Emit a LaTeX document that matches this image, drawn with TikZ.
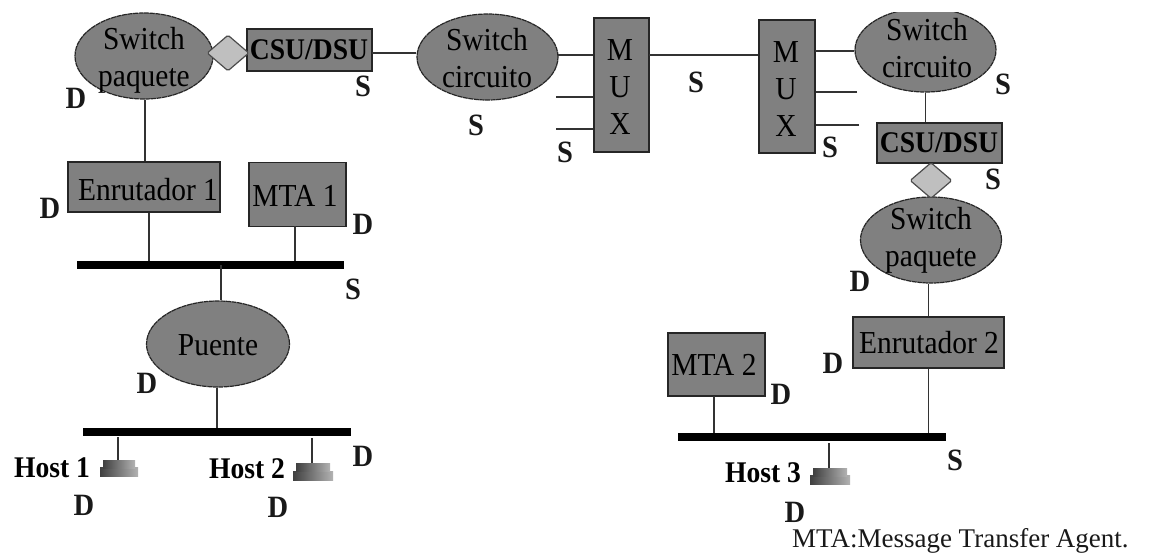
\documentclass[tikz,border=0pt]{standalone}
\usepackage{fontspec}
\setmainfont[FakeStretch=0.92]{Liberation Serif}
\newfontfamily\plainserif{Liberation Serif}
\usetikzlibrary{shapes.geometric}
\tikzset{
  x=1pt,y=-1pt,
  every node/.style={font=\fontsize{32}{37}\selectfont},
  graybox/.style={draw=black!85,fill=black!50,line width=1.4pt,inner sep=0pt,rectangle},
  grayell/.style={draw=black!85,fill=black!50,line width=1.2pt,dash pattern=on 5pt off 0.6pt,inner sep=0pt,ellipse},
  lozenge/.style={draw=black!70,fill=black!25,line width=1.2pt,diamond,inner sep=0pt,rounded corners=1.5pt,minimum width=42pt,minimum height=36pt},
  busbar/.style={fill=black,inner sep=0pt,rectangle,minimum height=8pt},
  txt/.style={inner sep=0pt,align=center,text=black},
  csutxt/.style={inner sep=0pt,font=\fontsize{30}{32}\selectfont\bfseries,text=black},
  lab/.style={inner sep=0pt,font=\fontsize{31}{32}\selectfont\bfseries,text=black!90},
  hostlab/.style={inner sep=0pt,font=\fontsize{30}{32}\selectfont\bfseries,text=black},
  wire/.style={line width=1.4pt,draw=black!80},
  hostbase/.style={inner sep=0pt,rectangle,left color=black!75,right color=black!30},
}
\begin{document}
\begin{tikzpicture}
\useasboundingbox (0,0) rectangle (1170,558);
\fill[white] (0,0) rectangle (1170,558);
\begin{scope}
\clip (0,12) rectangle (1170,558);
% ellipses
\node[grayell,minimum width=138pt,minimum height=86pt] (sp1) at (144,56) {};
\node[grayell,minimum width=141pt,minimum height=86pt] (sc1) at (487.5,57) {};
\node[grayell,minimum width=141pt,minimum height=84pt] (sc2) at (925.5,50) {};
\node[grayell,minimum width=141pt,minimum height=86pt] (sp2) at (931,240) {};
\node[grayell,minimum width=143pt,minimum height=86pt] (pu) at (218,344) {};
% rectangles
\node[graybox,minimum width=125pt,minimum height=42pt] (csu1) at (309.5,50) {};
\node[graybox,minimum width=125pt,minimum height=40pt] (csu2) at (939.5,143) {};
\node[graybox,minimum width=55pt,minimum height=134pt] (mux1) at (621.5,85) {};
\node[graybox,minimum width=56pt,minimum height=133pt] (mux2) at (787,86.5) {};
\node[graybox,minimum width=152pt,minimum height=50pt] (enr1) at (144,187) {};
\node[graybox,minimum width=97pt,minimum height=64pt] (mta1) at (297.5,194.5) {};
\node[graybox,minimum width=151pt,minimum height=51pt] (enr2) at (928.5,342.5) {};
\node[graybox,minimum width=97pt,minimum height=63pt] (mta2) at (716.5,364.5) {};
% diamonds
\node[lozenge] (dia1) at (228,53) {};
\node[lozenge] (dia2) at (931,180.5) {};
% buses
\node[busbar,minimum width=267pt] (bus1) at (210.5,265) {};
\node[busbar,minimum width=268pt] (bus2) at (217,432) {};
\node[busbar,minimum width=268pt] (bus3) at (812,437) {};
% hosts
\node[hostbase,minimum width=38pt,minimum height=9pt] (h1) at (119,471.5) {};
\node[hostbase,minimum width=32pt,minimum height=8pt] (h1t) at (119,464) {};
\node[hostbase,minimum width=40pt,minimum height=9pt] (h2) at (313,475.5) {};
\node[hostbase,minimum width=34pt,minimum height=8pt] (h2t) at (313,467) {};
\node[hostbase,minimum width=40pt,minimum height=9pt] (h3) at (830,479.5) {};
\node[hostbase,minimum width=34pt,minimum height=8pt] (h3t) at (830,472) {};
% free ends
\coordinate (m1a) at (556,97);
\coordinate (m1b) at (556,129);
\coordinate (m2a) at (857,92);
\coordinate (m2b) at (859,125);
\coordinate (b2h1) at (118,437);
\coordinate (b2h2) at (312,438);
\coordinate (bu1) at (221,265);
\coordinate (me1) at (649,55);
\coordinate (me2) at (815,51);
\coordinate (ce1) at (372,53);
\coordinate (se1) at (558,55);
\coordinate (ms1) at (295,226);
\coordinate (ms2) at (714,396);
\coordinate (h3s) at (829,443);
% connectors
\draw[wire] ([xshift=1]sp1.south) -- ([xshift=1]enr1.north);
\draw[wire] ([xshift=5]enr1.south) -- ([xshift=5]enr1.south |- bus1.north);
\draw[wire] (ms1) -- (ms1 |- bus1.north);
\draw[wire] (bu1) -- (bu1 |- pu.north);
\draw[wire] ([xshift=-1]pu.south) -- ([xshift=-1]pu.south |- bus2.north);
\draw[wire] (b2h1) -- (b2h1 |- h1t.north);
\draw[wire] (b2h2) -- (b2h2 |- h2t.north);
\draw[wire] (ce1) -- (ce1 -| sc1.west);
\draw[wire] (se1) -- (se1 -| mux1.west);
\draw[wire] (m1a) -- (m1a -| mux1.west);
\draw[wire] (m1b) -- (m1b -| mux1.west);
\draw[wire] (me1) -- (me1 -| mux2.west);
\draw[wire] (me2) -- (me2 -| sc2.west);
\draw[wire] (m2a) -- (m2a -| mux2.east);
\draw[wire] (m2b) -- (m2b -| mux2.east);
\draw[wire] (sc2.south) -- (sc2.south |- csu2.north);
\draw[wire] (enr2.north) -- (enr2.north |- sp2.south);
\draw[wire] (enr2.south) -- (enr2.south |- bus3.north);
\draw[wire] (ms2) -- (ms2 |- bus3.north);
\draw[wire] (h3s) -- (h3s |- h3t.north);
% box texts
\node[txt] (tsp1) at (144,60) {Switch\\paquete};
\node[txt] (tsc1) at (487,58) {Switch\\circuito};
\node[txt] (tsc2) at (927,48) {Switch\\circuito};
\node[txt] (tsp2) at (931,240) {Switch\\paquete};
\node[txt] (tpu) at (218,345) {Puente};
\node[csutxt] (tc1) at (309,50) {CSU/DSU};
\node[csutxt] (tc2) at (939,143) {CSU/DSU};
\node[txt,font=\fontsize{32}{37}\selectfont] (tm1) at (620,87) {M\\U\\X};
\node[txt,font=\fontsize{32}{37}\selectfont] (tm2) at (786,89) {M\\U\\X};
\node[txt] (te1) at (148,190) {Enrutador 1};
\node[txt] (tm3) at (295,196) {MTA 1};
\node[txt] (te2) at (929,343) {Enrutador 2};
\node[txt] (tm4) at (714,365) {MTA 2};
% D / S labels
\node[lab] (l1) at (76,98) {D};
\node[lab] (l2) at (363,86) {S};
\node[lab] (l3) at (50,208) {D};
\node[lab] (l4) at (363,224) {D};
\node[lab] (l5) at (353,289) {S};
\node[lab] (l6) at (147,383) {D};
\node[lab] (l7) at (363,456) {D};
\node[lab] (l8) at (84,505) {D};
\node[lab] (l9) at (278,507) {D};
\node[lab] (l10) at (476,125) {S};
\node[lab] (l11) at (565,152) {S};
\node[lab] (l12) at (696,82) {S};
\node[lab] (l13) at (830,147) {S};
\node[lab] (l14) at (1003,84) {S};
\node[lab] (l15) at (993,179) {S};
\node[lab] (l16) at (860,281) {D};
\node[lab] (l17) at (833,363) {D};
\node[lab] (l18) at (781,394) {D};
\node[lab] (l19) at (955,460) {S};
\node[lab] (l20) at (795,512) {D};
\node[hostlab] (hl1) at (52,468) {Host 1};
\node[hostlab] (hl2) at (247,469) {Host 2};
\node[hostlab] (hl3) at (763,473) {Host 3};
\node[inner sep=0pt,anchor=west,text=black!90,font=\fontsize{27}{30}\plainserif] (foot) at (792,541) {MTA:Message Transfer Agent.};
\end{scope}
\end{tikzpicture}
\end{document}
